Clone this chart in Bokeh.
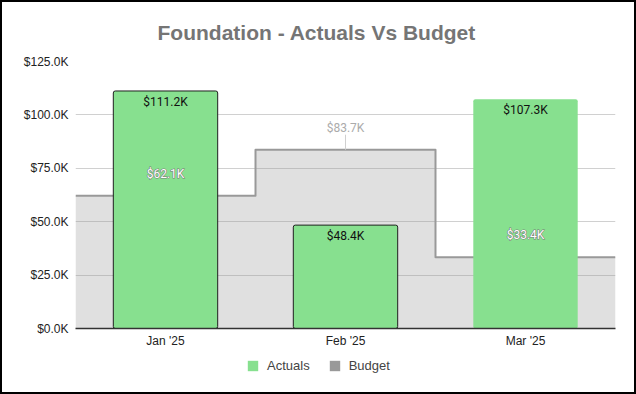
from bokeh.plotting import figure
from bokeh.layouts import column
from bokeh.models import (Range1d, FixedTicker, PrintfTickFormatter, CustomJSTickFormatter,
                          ColumnDataSource, Legend, LegendItem, InlineStyleSheet)
from bokeh.core.properties import value
from bokeh.embed import file_html
from bokeh.resources import INLINE

# ---- data (values in $K) ----
months = ["Jan '25", "Feb '25", "Mar '25"]
actuals = [111.2, 48.4, 107.3]
budget = [62.1, 83.7, 33.4]
actual_outline_alpha = [1, 1, 0]
y_ticks = [0, 25, 50, 75, 100, 125]
series_names = ["Actuals", "Budget"]

GREEN = "#87E08F"
GREY = "#999999"
FONT = "Liberation Sans"
LFONT = "Roboto"

n = len(months)
centers = [i + 0.5 for i in range(n)]
edges = list(range(n + 1))
budget_steps = budget + [budget[-1]]

p = figure(width=636, height=354, x_range=Range1d(0, n), y_range=Range1d(0, y_ticks[-1]),
           output_backend="svg", toolbar_location=None,
           min_border_left=75, min_border_right=21, min_border_top=61, min_border_bottom=26)
p.outline_line_color = None
p.background_fill_color = "white"

p.title.text = "Foundation - Actuals Vs Budget"
p.title.align = "left"
p.title.offset = 82
p.title.standoff = 36
p.title.text_font = FONT
p.title.text_font_size = "21px"
p.title.text_font_style = "bold"
p.title.text_color = "#757575"

# axes
p.yaxis.ticker = FixedTicker(ticks=y_ticks)
p.yaxis.formatter = PrintfTickFormatter(format="$%.1fK")
p.yaxis.axis_line_color = None
p.yaxis.major_tick_line_color = None
p.yaxis.minor_tick_line_color = None
p.yaxis.major_tick_out = 0
p.yaxis.major_label_text_font = FONT
p.yaxis.major_label_text_font_size = "12px"
p.yaxis.major_label_text_color = "#222222"
p.yaxis.major_label_standoff = 7

p.xaxis.ticker = FixedTicker(ticks=centers)
p.xaxis.formatter = CustomJSTickFormatter(args=dict(months=months),
                                          code="return months[Math.floor(tick)];")
p.xaxis.axis_line_color = "#333333"
p.xaxis.axis_line_width = 1.5
p.xaxis.major_tick_line_color = None
p.xaxis.minor_tick_line_color = None
p.xaxis.major_tick_out = 0
p.xaxis.major_label_text_font = FONT
p.xaxis.major_label_text_font_size = "12px"
p.xaxis.major_label_text_color = "#222222"
p.xaxis.major_label_standoff = 5

p.xgrid.grid_line_color = None
p.ygrid.grid_line_color = "#d0d0d0"

# budget stepped area
p.varea_step(x=edges, y1=[0] * len(edges), y2=budget_steps, step_mode="after",
             fill_color=GREY, fill_alpha=0.3)
p.step(x=edges, y=budget_steps, mode="after", line_color=GREY, line_width=2, line_join="round")

# actual bars
src = ColumnDataSource(dict(x=centers, top=actuals, la=actual_outline_alpha,
                            label=[f"${v:.1f}K" for v in actuals]))
p.vbar(x="x", top="top", width=0.58, source=src, fill_color=GREEN,
       line_color="#1f1f1f", line_alpha="la", line_width=1, border_radius=2)
p.text(x="x", y="top", text="label", source=src, text_align="center", text_baseline="top",
       y_offset=4, text_font_size="12px", text_color="#111111", text_font=value(LFONT))

# budget labels
inside = [b < a for a, b in zip(actuals, budget)]
bsrc = ColumnDataSource(dict(
    x=centers, y=budget, label=[f"${v:.1f}K" for v in budget],
    color=["white" if i else "#ababab" for i in inside],
    halo=[1 if i else 0 for i in inside]))
p.text(x="x", y="y", text="label", source=bsrc, text_align="center", text_baseline="middle",
       y_offset=-22, text_font_size="12px", text_color="#777777", text_alpha="halo",
       text_outline_color="#777777", text_font=value(LFONT))
p.text(x="x", y="y", text="label", source=bsrc, text_align="center", text_baseline="middle",
       y_offset=-22, text_font_size="12px", text_color="color", text_font=value(LFONT))
px_per_k = 267.0 / y_ticks[-1]
stem_x = [c for c, i in zip(centers, inside) if not i]
stem_y = [b for b, i in zip(budget, inside) if not i]
p.segment(x0=stem_x, y0=stem_y, x1=stem_x, y1=[y + 15 / px_per_k for y in stem_y],
          line_color="#d0d0d0", line_width=1)

# legend in its own strip below the chart
lg = figure(width=636, height=40, x_range=Range1d(0, 1), y_range=Range1d(0, 1),
            output_backend="svg", toolbar_location=None, x_axis_type=None, y_axis_type=None,
            min_border=0)
lg.outline_line_color = None
lg.xgrid.grid_line_color = None
lg.ygrid.grid_line_color = None
r_act = lg.vbar(x=[0], top=[0], width=0, fill_color=GREEN, line_color=None)
r_bud = lg.vbar(x=[0], top=[0], width=0, fill_color=GREY, line_color=None)
legend = Legend(items=[LegendItem(label=series_names[0], renderers=[r_act]),
                       LegendItem(label=series_names[1], renderers=[r_bud])],
                orientation="horizontal", location=(171, 21), border_line_color=None,
                background_fill_alpha=0, glyph_width=13, glyph_height=13, label_height=13,
                label_text_font=FONT, label_text_font_size="13px", label_text_color="#444444",
                label_standoff=8, spacing=18, margin=0, padding=3)
lg.add_layout(legend, "center")

layout = column(p, lg, spacing=0)
layout.stylesheets = [InlineStyleSheet(css=(
    ":host { position: relative; }"
    ":host::after { content: ''; position: absolute; left: 0; top: 0; right: 0; bottom: 0;"
    " border: 2px solid black; pointer-events: none; z-index: 100; box-sizing: border-box; }"))]

open("out.html", "w").write(file_html(layout, INLINE))
